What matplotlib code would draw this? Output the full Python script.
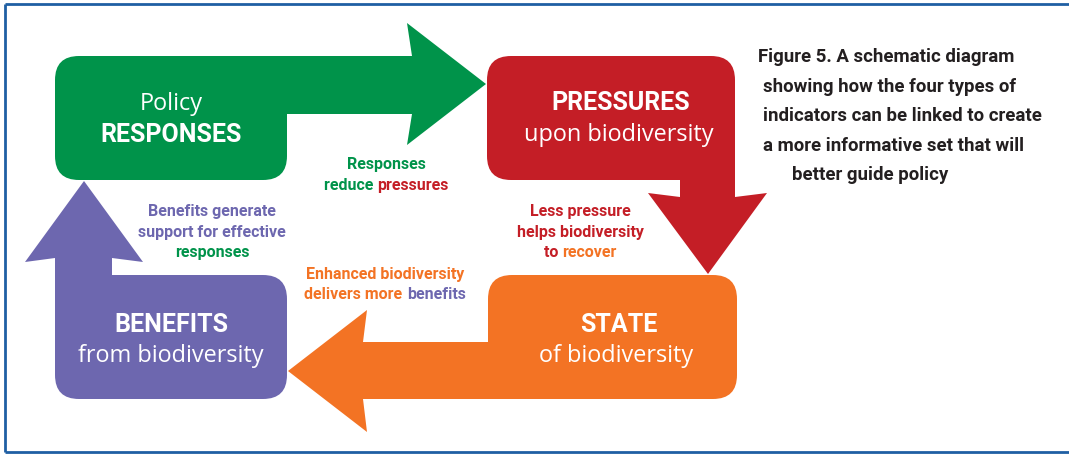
import matplotlib
matplotlib.use("Agg")
import matplotlib.pyplot as plt
from matplotlib.patches import FancyBboxPatch, Polygon

# ---------------- data ----------------
stage_names = ["RESPONSES", "PRESSURES", "STATE", "BENEFITS"]
stage_before = ["Policy", "", "", ""]
stage_after = ["", "upon biodiversity", "of biodiversity", "from biodiversity"]
stage_colors = ["#00934A", "#C41E26", "#F37324", "#6D67AF"]

link_lines = [
    [[("Responses", "#00934A")], [("reduce ", "#00934A"), ("pressures", "#C41E26")]],
    [[("Less pressure", "#C41E26")], [("helps biodiversity", "#C41E26")],
     [("to ", "#C41E26"), ("recover", "#F37324")]],
    [[("Enhanced biodiversity", "#F37324")],
     [("delivers more ", "#F37324"), ("benefits", "#6D67AF")]],
    [[("Benefits generate", "#6D67AF")], [("support for effective", "#6D67AF")],
     [("responses", "#00934A")]],
]

caption_lines = [
    "Figure 5. A schematic diagram",
    "showing how the four types of",
    "indicators can be linked to create",
    "a more informative set that will",
    "better guide policy",
]

# ---------------- layout (pixel coordinates) ----------------
W, H = 1069, 454
fig = plt.figure(figsize=(W / 100, H / 100), dpi=100)
ax = fig.add_axes([0, 0, 1, 1])
ax.set_xlim(0, W)
ax.set_ylim(H, 0)
ax.axis("off")

FONT = ["Roboto", "DejaVu Sans"]
LIGHT = ["Open Sans", "Roboto", "DejaVu Sans"]
CAPFONT = ["Liberation Sans Narrow", "Roboto", "DejaVu Sans"]

# boxes: x0, y0, x1, y1
boxes = [(55, 56, 287, 180), (487, 56, 735, 180), (488, 275, 737, 399), (55, 275, 287, 399)]
# arrows: shaft + head polygons
arrows = [
    [(260, 56), (412, 56), (407, 23), (486, 84), (407, 145), (412, 114), (260, 114)],
    [(680, 150), (735, 150), (735, 197), (767, 193), (708, 274), (648, 193), (680, 197)],
    [(515, 342), (363, 342), (367, 310), (288, 371), (367, 432), (363, 399), (515, 399)],
    [(55, 300), (55, 258), (25, 262), (84, 181), (143, 262), (112, 258), (112, 300)],
]

for (x0, y0, x1, y1), poly, col in zip(boxes, arrows, stage_colors):
    ax.add_patch(FancyBboxPatch((x0, y0), x1 - x0, y1 - y0,
                                boxstyle="round,pad=0,rounding_size=24",
                                fc=col, ec="none", zorder=2))
    ax.add_patch(Polygon(poly, closed=True, fc=col, ec="none", zorder=2))

# stage texts
name_pos = [(171, 142), (621, 110), (619, 332), (171, 332)]
sub_pos = [(171, 110), (619, 141), (616, 362), (171, 362)]
for i in range(4):
    ax.text(*name_pos[i], stage_names[i], color="white", fontsize=18,
            fontweight="bold", ha="center", va="baseline", family=FONT, zorder=3)
    sub = stage_before[i] or stage_after[i]
    ax.text(*sub_pos[i], sub, color="white", fontsize=16.9, ha="center",
            va="baseline", family=LIGHT, zorder=3)

# link texts (multi-coloured lines)
link_pos = [(386, [169, 190]), (580, [216, 237, 257]), (385, [279, 299]), (212, [216, 237, 257])]
fig.canvas.draw()
renderer = fig.canvas.get_renderer()
for lines, (xc, ys) in zip(link_lines, link_pos):
    for segs, y in zip(lines, ys):
        texts = [ax.text(0, y, s, color=c, fontsize=11.5, fontweight="bold",
                         ha="left", va="baseline", family=FONT, zorder=3)
                 for s, c in segs]
        widths = [t.get_window_extent(renderer).width for t in texts]
        x = xc - sum(widths) / 2
        for t, w in zip(texts, widths):
            t.set_x(x)
            x += w

# caption
cap_x = [758, 763, 763, 763, 792]
cap_y = [62, 92, 121, 151, 180]
for s, x, y in zip(caption_lines, cap_x, cap_y):
    ax.text(x, y, s, color="#231F20", fontsize=13.4, fontweight="bold",
            ha="left", va="baseline", family=CAPFONT, zorder=3)

# frame
fc = "#1F5FA3"
ax.plot([5, W + 5], [4, 4], color=fc, lw=2, solid_capstyle="butt")
ax.plot([5, W + 5], [452, 452], color=fc, lw=2, solid_capstyle="butt")
ax.plot([5, 5], [4, 452], color=fc, lw=2, solid_capstyle="butt")

fig.savefig("out.png", dpi=100)
